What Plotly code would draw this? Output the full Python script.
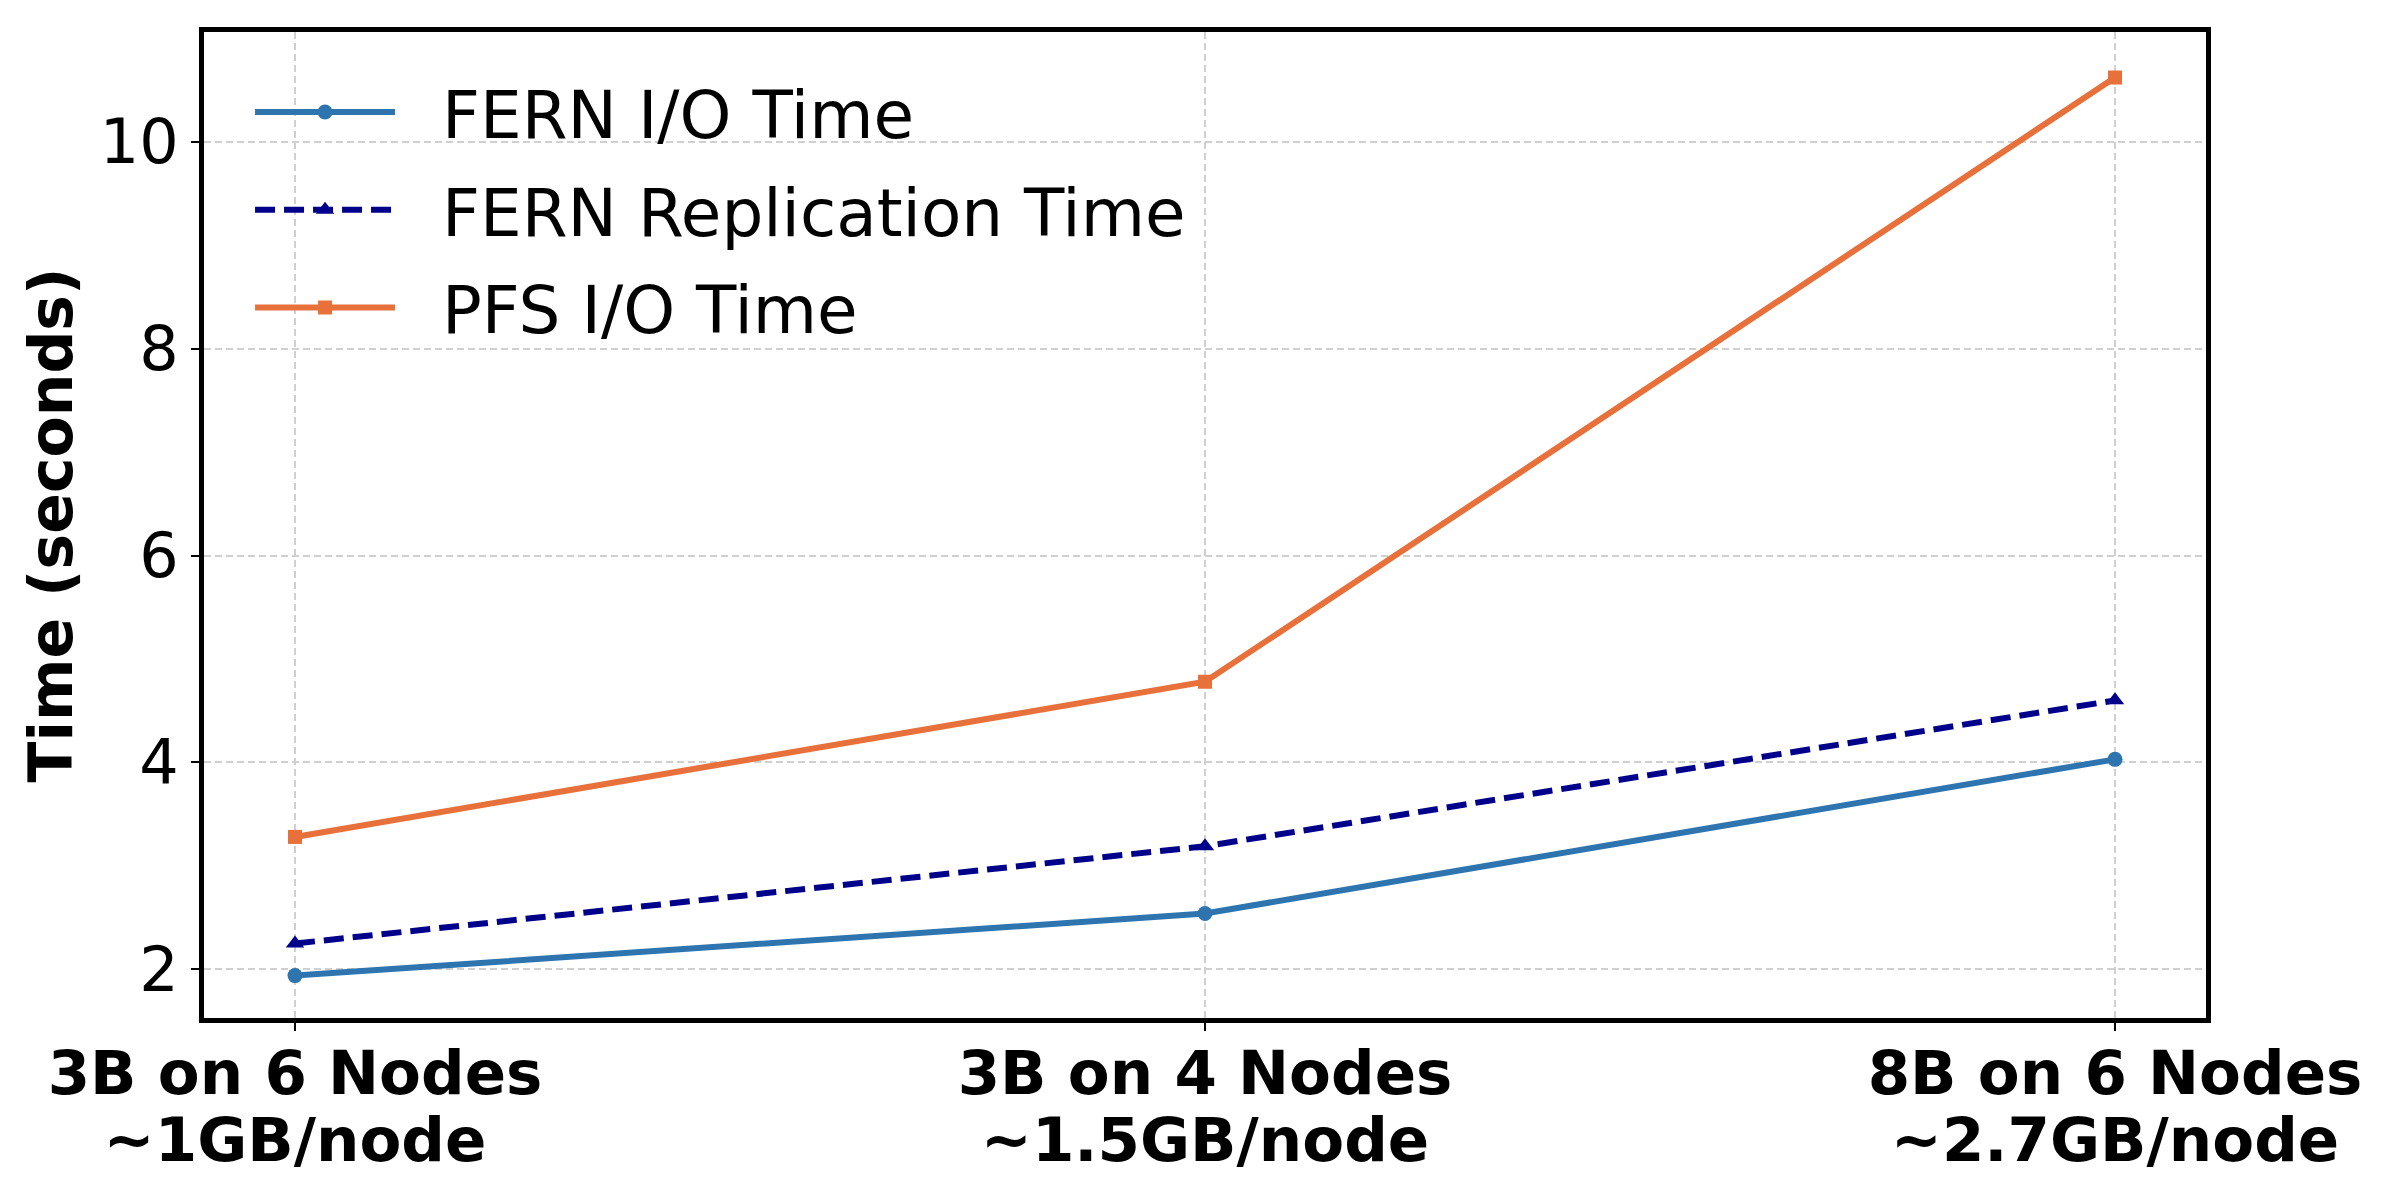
import plotly.graph_objects as go

categories_line1 = ["3B on 6 Nodes", "3B on 4 Nodes", "8B on 6 Nodes"]
categories_line2 = ["~1GB/node", "~1.5GB/node", "~2.7GB/node"]
series_names = ["FERN I/O Time", "FERN Replication Time", "PFS I/O Time"]
fern_io = [1.94, 2.54, 4.03]
fern_rep = [2.25, 3.19, 4.60]
pfs_io = [3.28, 4.78, 10.62]
y_ticks = [2, 4, 6, 8, 10]

FONT = "DejaVu Sans"
GAP = "\u00a0\u00a0"
GRID = "#d0d0d0"
x = list(range(len(categories_line1)))

fig = go.Figure()
fig.add_trace(go.Scatter(x=x, y=fern_io, name=GAP + series_names[0], mode="lines+markers",
                         legendgroup="a",
                         line=dict(color="#2E75B0", width=6),
                         marker=dict(symbol="circle", size=15, color="#2E75B0")))
fig.add_trace(go.Scatter(x=x, y=fern_rep, name=GAP + series_names[1], mode="lines+markers",
                         legendgroup="b",
                         line=dict(color="#00008B", width=6, dash="20px,9px"),
                         marker=dict(symbol="triangle-up", size=16, color="#00008B")))
fig.add_trace(go.Scatter(x=x, y=pfs_io, name=GAP + series_names[2], mode="lines+markers",
                         legendgroup="c",
                         line=dict(color="#E8703A", width=6),
                         marker=dict(symbol="square", size=14, color="#E8703A")))
# invisible carrier trace for the second-line tick labels axis
fig.add_trace(go.Scatter(x=x, y=fern_io, xaxis="x2", mode="markers", showlegend=False,
                         hoverinfo="skip", marker=dict(opacity=0)))

fig.update_layout(
    width=2400, height=1200,
    margin=dict(l=196, r=202, t=24, b=190),
    paper_bgcolor="white", plot_bgcolor="white",
    font=dict(family=FONT, color="black", size=62),
    showlegend=True,
    legend=dict(x=0.023, y=0.969, xanchor="left", yanchor="top",
                bgcolor="rgba(255,255,255,0)", borderwidth=0,
                font=dict(family=FONT, size=66, color="black"),
                itemwidth=140, tracegroupgap=9, traceorder="grouped"),
    xaxis2=dict(overlaying="x", side="bottom", anchor="y",
                range=[-0.1, 2.1], tickmode="array", tickvals=x, ticktext=categories_line2,
                tickfont=dict(family=FONT, size=61, weight="bold", color="black"),
                showgrid=False, showline=False, ticks="", zeroline=False,
                ticklabelstandoff=81),
)
fig.layout.xaxis.update(
    range=[-0.1, 2.1], tickmode="array", tickvals=x, ticktext=categories_line1,
    tickfont=dict(family=FONT, size=61, weight="bold", color="black"),
    showgrid=True, gridcolor=GRID, griddash="7px,4px", gridwidth=2,
    showline=True, linecolor="black", linewidth=5, mirror=True,
    ticks="outside", ticklen=8, tickwidth=2, tickcolor="black",
    zeroline=False, ticklabelstandoff=-10,
)
fig.update_yaxes(
    range=[1.53, 11.06], tickmode="array", tickvals=y_ticks,
    tickfont=dict(family=FONT, size=62, color="black"),
    showgrid=True, gridcolor=GRID, griddash="7px,4px", gridwidth=2,
    showline=True, linecolor="black", linewidth=5, mirror=True,
    ticks="outside", ticklen=8, tickwidth=2, tickcolor="black",
    zeroline=False,
    title=dict(text="Time (seconds)", font=dict(family=FONT, size=60, weight="bold", color="black"), standoff=9),
)

fig.write_html("out.html")
